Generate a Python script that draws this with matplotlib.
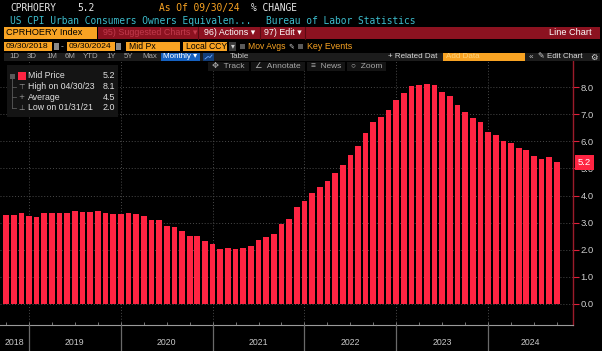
import matplotlib
matplotlib.use("Agg")
import matplotlib.pyplot as plt
from matplotlib.patches import Rectangle
import pandas as pd

# CPRHOERY Index, monthly, 09/30/2018 - 09/30/2024 (% change y/y)
dates = pd.date_range("2018-09-30", periods=73, freq="ME")
values = [3.30, 3.27, 3.35, 3.25, 3.22, 3.35, 3.35, 3.37, 3.37, 3.44, 3.40, 3.39,
          3.42, 3.35, 3.31, 3.31, 3.37, 3.31, 3.26, 3.10, 3.08, 2.87, 2.83, 2.71,
          2.52, 2.52, 2.31, 2.20, 2.04, 2.06, 2.04, 2.06, 2.14, 2.36, 2.46, 2.60,
          2.94, 3.15, 3.57, 3.81, 4.11, 4.33, 4.55, 4.82, 5.12, 5.50, 5.84, 6.31,
          6.71, 6.90, 7.15, 7.54, 7.79, 8.03, 8.06, 8.13, 8.06, 7.83, 7.67, 7.35,
          7.10, 6.85, 6.71, 6.36, 6.23, 6.00, 5.92, 5.77, 5.67, 5.47, 5.34, 5.41,
          5.23]
y_ticks = [0, 1, 2, 3, 4, 5, 6, 7, 8]
years = ["2018", "2019", "2020", "2021", "2022", "2023", "2024"]
legend_rows = [("Mid Price", "5.2"), ("High on 04/30/23", "8.1"),
               ("Average", "4.5"), ("Low on 01/31/21", "2.0")]
last_value = "5.2"

W, H = 602, 351
BAR = "#ff2442"
ORANGE = "#f8a323"
DARKRED = "#8c1220"
SANS = ["Liberation Sans", "DejaVu Sans"]
MONO = "DejaVu Sans Mono"

fig = plt.figure(figsize=(W / 100, H / 100), dpi=100, facecolor="black")

x0, x1 = -0.79, 74.1
ax = fig.add_axes([0, 26 / H, 573 / W, 265 / H])
ax.set_facecolor("black")
idx = list(range(len(values)))
ax.bar(idx, values, width=0.74, color=BAR, zorder=3)
ax.set_xlim(x0, x1)
ax.set_ylim(-0.775, 9.0)

# year boundaries sit on the December bars
bounds = [i for i, d in enumerate(dates) if d.month == 12]
for b in bounds:
    ax.axvline(b, color="#4a4a4a", ls=(0, (1, 2)), lw=0.7, zorder=1)
for t in y_ticks:
    ax.axhline(t, color="#4a4a4a", ls=(0, (1, 2)), lw=0.7, zorder=1)

ax.yaxis.tick_right()
ax.set_yticks(y_ticks)
ax.set_yticklabels([f"{t:.1f}" for t in y_ticks], fontsize=6.8, family=SANS)
ax.tick_params(axis="y", colors="#e0203a", length=4, width=0.8, pad=1.5,
               labelcolor="#cfcfcf")
ax.set_xticks([i for i in idx if i % 3 == 0])
ax.set_xticklabels([])
ax.tick_params(axis="x", direction="in", length=2.5, width=0.6, colors="#8a8a8a")
for s in ["top", "left"]:
    ax.spines[s].set_visible(False)
ax.spines["right"].set_color("#9b1b2a")
ax.spines["right"].set_linewidth(1.0)
ax.spines["bottom"].set_color("#9a9a9a")
ax.spines["bottom"].set_linewidth(0.8)

# last value tag covers the 5.0 label, as on the terminal
ax.text(1.008, values[-1], last_value, transform=ax.get_yaxis_transform(),
        ha="left", va="center", fontsize=6.8, color="white", family=SANS,
        bbox=dict(boxstyle="square,pad=0.3", fc=BAR, ec="none"), zorder=5,
        clip_on=False)

# bottom strip with year labels
ax2 = fig.add_axes([0, 0, 573 / W, 26 / H])
ax2.set_facecolor("black")
ax2.set_xlim(x0, x1)
ax2.set_ylim(0, 1)
ax2.axis("off")
for b in bounds:
    ax2.axvline(b, color="#6a6a6a", lw=0.9)
edges = [x0 + 0.1] + bounds + [x1]
for k, yr in enumerate(years):
    ax2.text((edges[k] + edges[k + 1]) / 2, 0.33, yr, ha="center", va="center",
             fontsize=6.3, color="#c8c8c8", family=SANS)

# overlay in pixel coordinates for the terminal chrome
ov = fig.add_axes([0, 0, 1, 1], zorder=10)
ov.set_xlim(0, W)
ov.set_ylim(H, 0)
ov.axis("off")
ov.patch.set_alpha(0)


def box(xa, ya, xb, yb, c, ec="none"):
    ov.add_patch(Rectangle((xa, ya), xb - xa, yb - ya, fc=c, ec=ec, lw=0.6))


def txt(x, y, s, c, size=6.2, fam=SANS, ha="left", **kw):
    ov.text(x, y, s, color=c, fontsize=size, family=fam, ha=ha, va="center", **kw)


# row 1 and 2
txt(10, 8, "CPRHOERY", "#e6e6e6", 6.9, MONO)
txt(77, 8, "5.2", "#e6e6e6", 6.9, MONO)
txt(159, 8, "As Of 09/30/24", ORANGE, 6.9, MONO)
txt(251, 8, "% CHANGE", "#e6e6e6", 6.9, MONO)
txt(10, 20.5, "US CPI Urban Consumers Owners Equivalen...", "#3cbccc", 6.9, MONO)
txt(266, 20.5, "Bureau of Labor Statistics", "#3cbccc", 6.9, MONO)

# row 3
box(4, 27, 97, 38.5, ORANGE)
txt(6.5, 32.8, "CPRHOERY Index", "black", 6.6)
box(98, 27, 600, 38.5, DARKRED)
for sx in [198, 260, 305]:
    ov.plot([sx, sx], [27, 38.5], color="#5a0a12", lw=0.8)
txt(103, 32.8, "95) Suggested Charts ▾", "#c23a4c", 6.4)
txt(204, 32.8, "96) Actions ▾", "white", 6.4)
txt(264, 32.8, "97) Edit ▾", "white", 6.4)
txt(592, 32.8, "Line Chart", "white", 6.6, ha="right")

# row 4
box(4, 42, 52, 51, ORANGE)
txt(5.5, 46.5, "09/30/2018", "black", 6.1)
box(53.5, 43, 58.5, 50, "#8a8a8a")
txt(62.5, 46.5, "-", "#cfcfcf", 6.1, ha="center")
box(67, 42, 115, 51, ORANGE)
txt(68.5, 46.5, "09/30/2024", "black", 6.1)
box(116, 43, 121, 50, "#8a8a8a")
box(126, 42, 180, 51, ORANGE)
txt(129, 46.5, "Mid Px", "black", 6.2)
box(183, 42, 227, 51, ORANGE)
txt(186, 46.5, "Local CCY", "black", 6.2)
box(229, 42, 236, 51, "#3a3a3a")
txt(232.5, 46.5, "▾", "#cfcfcf", 5.5, ha="center")
box(240, 44, 245, 49, "#5a5a5a")
txt(248, 46.5, "Mov Avgs", ORANGE, 6.2)
txt(288, 46.5, "✎", "#cfcfcf", 5.0, fam="DejaVu Sans")
box(298, 44, 303, 49, "#5a5a5a")
txt(307, 46.5, "Key Events", ORANGE, 6.4)

# row 5
box(4, 52.5, 600, 61, "#1c1c1c")
for px, lab in zip([9.5, 27, 46, 65, 83, 106, 124, 142],
                   ["1D", "3D", "1M", "6M", "YTD", "1Y", "5Y", "Max"]):
    txt(px, 57, lab, "#a8a8a8", 5.7)
box(161, 52.5, 200, 61, "#1561c0")
txt(163, 57, "Monthly ▾", "white", 5.8)
box(203, 52.5, 214, 61, "#123e7a")
ov.plot([205, 208, 210, 212], [59, 56.5, 57.5, 55], color="#6aa8ff", lw=0.6)
txt(230, 57, "Table", "#c8c8c8", 5.8)
txt(388, 57, "+ Related Dat", "#d8d8d8", 5.8)
box(443, 52.5, 525, 61, ORANGE)
txt(446, 57, "Add Data", "#ffd27a", 5.8)
txt(529, 57, "«", "#c8c8c8", 5.8)
txt(538, 57, "✎ Edit Chart", "#d8d8d8", 5.8)
txt(590, 57, "⚙", "#d8d8d8", 6.0, fam="DejaVu Sans")

# row 6 buttons
for xa, xb, lab in [(208, 249, "✥  Track"), (251, 305, "∠  Annotate"),
                    (307, 345, "≡  News"), (347, 386, "○  Zoom")]:
    box(xa, 62, xb, 71, "#141414")
    txt(xa + 4, 66.5, lab, "#a8a8a8", 6.0)

# legend
box(7, 65, 118, 117, "#141414")
rows_y = [76, 86.5, 97, 107.5]
ov.plot([12, 12], [76, 107.5], color="#5a5a5a", lw=0.6)
for yy in rows_y[1:]:
    ov.plot([12, 16], [yy, yy], color="#5a5a5a", lw=0.6)
box(9.5, 73.5, 14.5, 78.5, "#5a5a5a")
box(17.5, 72, 25.5, 80, BAR)
markers = [None, "⊤", "+", "⊥"]
for (lab, val), yy, m in zip(legend_rows, rows_y, markers):
    if m:
        txt(21.5, yy, m, "#9a9a9a", 5.3, fam="DejaVu Sans", ha="center")
    txt(28, yy, lab, "#e0e0e0", 6.3)
    txt(115, yy, val, "#e0e0e0", 6.4, ha="right")

fig.savefig("out.png", dpi=100, facecolor="black")
